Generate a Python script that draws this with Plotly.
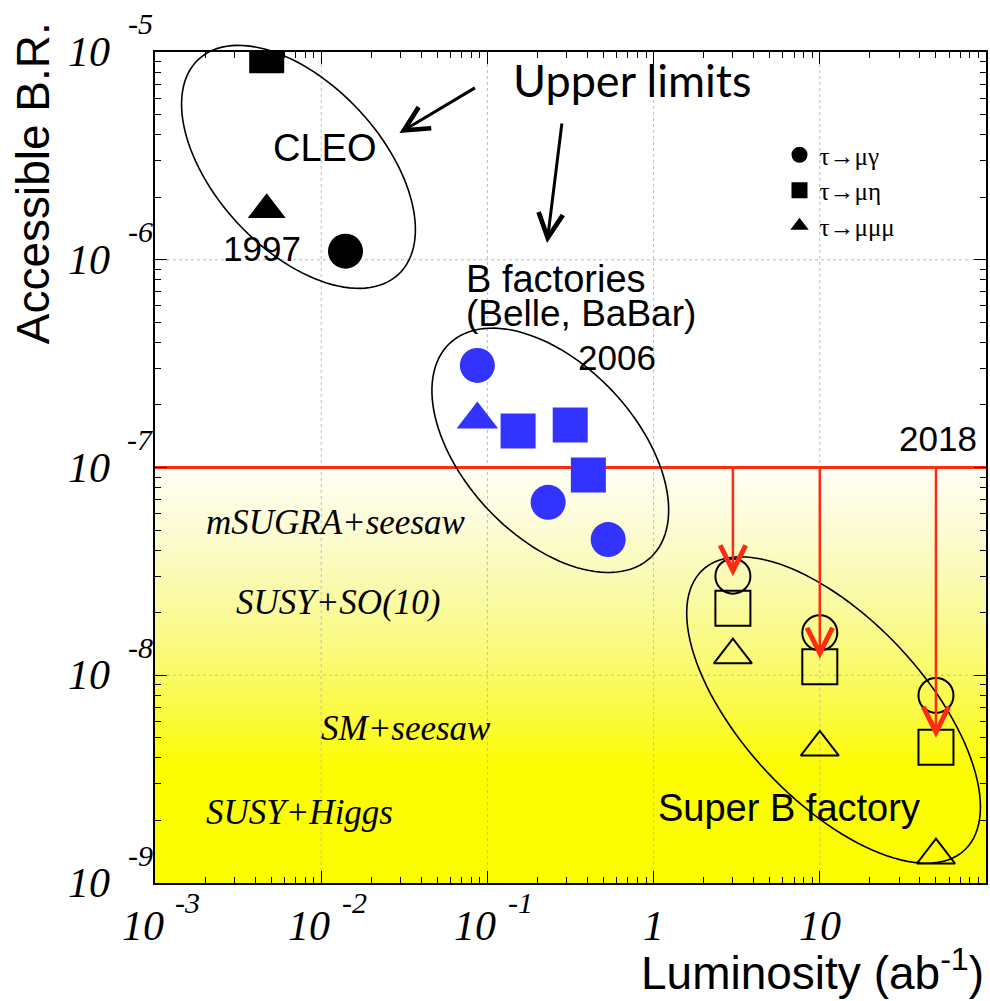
import math
import plotly.graph_objects as go

# ---- data: upper limits on LFV tau decays vs integrated luminosity (ab^-1) ----
channel_names = ["τ→μγ", "τ→μη", "τ→μμμ"]

cleo_mugamma_lumi = [0.014]
cleo_mugamma_br = [1.1e-6]
cleo_mueta_lumi = [0.0047]
cleo_mueta_br = [9.6e-6]
cleo_mumumu_lumi = [0.0047]
cleo_mumumu_br = [1.74e-6]

bfac_mugamma_lumi = [0.087, 0.232, 0.533]
bfac_mugamma_br = [3.1e-7, 6.8e-8, 4.5e-8]
bfac_mueta_lumi = [0.153, 0.315, 0.405]
bfac_mueta_br = [1.5e-7, 1.6e-7, 9.2e-8]
bfac_mumumu_lumi = [0.087]
bfac_mumumu_br = [1.7e-7]

superb_lumi = [3, 10, 50]
superb_mugamma_br = [3.0e-8, 1.6e-8, 8.0e-9]
superb_mueta_br = [2.1e-8, 1.1e-8, 4.5e-9]
superb_mumumu_br = [1.25e-8, 4.5e-9, 1.36e-9]

limit_2018 = 1e-7
arrow_tip_br = [3.0e-8, 1.2e-8, 5.0e-9]

x_tick_vals = [1e-3, 1e-2, 1e-1, 1, 10]
x_tick_base = ["10", "10", "10", "1", "10"]
x_tick_exp = ["-3", "-2", "-1", "", ""]
y_tick_vals = [1e-9, 1e-8, 1e-7, 1e-6, 1e-5]
y_tick_exp = ["-9", "-8", "-7", "-6", "-5"]

model_labels = ["mSUGRA+seesaw", "SUSY+SO(10)", "SM+seesaw", "SUSY+Higgs"]

# ---- geometry of the plotting area (figure pixels) ----
W, H = 990, 1001
PL, PR, PT, PB = 155, 988, 52, 883
XR = (-3.0, 2.0)
YR = (-9.0, -5.0)


def px_of(x):
    return PL + (math.log10(x) - XR[0]) / (XR[1] - XR[0]) * (PR - PL)


def py_of(y):
    return PB - (math.log10(y) - YR[0]) / (YR[1] - YR[0]) * (PB - PT)


def fx(px):
    return (px - PL) / (PR - PL)


def fy(py):
    return (PB - py) / (PB - PT)


def label(px, py, text, family, size, xanchor="center", **kw):
    d = dict(x=fx(px), y=fy(py), xref="paper", yref="paper", text=text,
             xanchor=xanchor, yanchor="middle", showarrow=False,
             font=dict(family=family, size=size, color="black"))
    d.update(kw)
    return d


BLUE = "#3333ff"
RED = "#ff2a12"
SANS = "Liberation Sans"
SERIF = "Liberation Serif"

fig = go.Figure()

# yellow band below the 2018 sensitivity line
fig.add_trace(go.Scatter(
    x=[10 ** XR[0], 10 ** XR[1], 10 ** XR[1], 10 ** XR[0], 10 ** XR[0]],
    y=[10 ** YR[0], 10 ** YR[0], limit_2018, limit_2018, 10 ** YR[0]],
    mode="none", fill="toself",
    fillgradient=dict(type="vertical", colorscale=[
        [0.0, "rgb(252,252,0)"], [0.28, "rgb(252,252,0)"],
        [0.40, "rgb(250,250,62)"], [0.55, "rgb(250,250,120)"],
        [0.70, "rgb(250,250,170)"], [0.85, "rgb(252,252,212)"],
        [1.0, "rgb(255,255,245)"]]),
    hoverinfo="skip", showlegend=False))

# dotted grid drawn over the band
gx, gy = [], []
for v in x_tick_vals[1:]:
    gx += [v, v, None]
    gy += [10 ** YR[0], 10 ** YR[1], None]
for v in y_tick_vals[1:-1]:
    gx += [10 ** XR[0], 10 ** XR[1], None]
    gy += [v, v, None]
fig.add_trace(go.Scatter(x=gx, y=gy, mode="lines",
                         line=dict(color="#bdbdbd", width=1, dash="dot"),
                         hoverinfo="skip", showlegend=False))

# 2018 line
fig.add_trace(go.Scatter(x=[10 ** XR[0], 10 ** XR[1]], y=[limit_2018, limit_2018],
                         mode="lines", line=dict(color=RED, width=3),
                         hoverinfo="skip", showlegend=False))

SYM = ["circle", "square", "triangle-up"]
SIZE = [35, 35, 33]

cleo = [(cleo_mugamma_lumi, cleo_mugamma_br), (cleo_mueta_lumi, cleo_mueta_br),
        (cleo_mumumu_lumi, cleo_mumumu_br)]
for i, (lx, ly) in enumerate(cleo):
    fig.add_trace(go.Scatter(x=lx, y=ly, mode="markers", name=channel_names[i],
                             marker=dict(symbol=SYM[i], size=SIZE[i], color="black",
                                         line=dict(width=0)),
                             showlegend=True))

bfac = [(bfac_mugamma_lumi, bfac_mugamma_br), (bfac_mueta_lumi, bfac_mueta_br),
        (bfac_mumumu_lumi, bfac_mumumu_br)]
for i, (lx, ly) in enumerate(bfac):
    fig.add_trace(go.Scatter(x=lx, y=ly, mode="markers",
                             marker=dict(symbol=SYM[i], size=SIZE[i] + (3 if i == 2 else 0),
                                         color=BLUE, line=dict(width=0)),
                             showlegend=False))

superb = [superb_mugamma_br, superb_mueta_br, superb_mumumu_br]
for i, ly in enumerate(superb):
    fig.add_trace(go.Scatter(x=superb_lumi, y=ly, mode="markers",
                             marker=dict(symbol=SYM[i] + "-open", size=SIZE[i],
                                         color="black", line=dict(width=2, color="black")),
                             showlegend=False))


# ellipses around each generation of experiments
def ellipse_path(cx_data, cy_data, a, b, tilt_deg, n=120):
    cx, cy = px_of(cx_data), py_of(cy_data)
    th = math.radians(tilt_deg)
    pts = []
    for k in range(n + 1):
        t = 2 * math.pi * k / n
        px = cx + a * math.cos(th) * math.cos(t) - b * math.sin(th) * math.sin(t)
        py = cy + a * math.sin(th) * math.cos(t) + b * math.cos(th) * math.sin(t)
        pts.append(f"{fx(px):.5f},{fy(py):.5f}")
    return "M" + " L".join(pts) + " Z"


for (cxd, cyd, a, b, tilt) in [(7.3e-3, 2.8e-6, 147, 83, 47),
                               (0.239, 1.21e-7, 147, 86, 46.7),
                               (12.1, 6.8e-9, 192, 91, 46.8)]:
    fig.add_shape(type="path", path=ellipse_path(cxd, cyd, a, b, tilt),
                  xref="paper", yref="paper", line=dict(color="black", width=1.6),
                  layer="above")

ann = []

# red downward arrows from the 2018 line
for L, tip in zip(superb_lumi, arrow_tip_br):
    ann.append(dict(x=math.log10(L), y=math.log10(tip), xref="x", yref="y",
                    ax=math.log10(L), ay=math.log10(limit_2018), axref="x", ayref="y",
                    text="", showarrow=True, arrowhead=5, arrowsize=2.0,
                    arrowwidth=2.5, arrowcolor=RED))

# tick labels in ROOT style: mantissa plus raised exponent
for v, base, ex in zip(x_tick_vals, x_tick_base, x_tick_exp):
    p = px_of(v)
    if ex:
        ann.append(label(p - 12, 926, f"<i>{base}</i>", SERIF, 42))
        ann.append(label(p + 33, 902, f"<i>{ex}</i>", SERIF, 30))
    else:
        ann.append(label(p, 926, f"<i>{base}</i>", SERIF, 42))

for v, ex in zip(y_tick_vals, y_tick_exp):
    p = py_of(v)
    ann.append(label(89, p, "<i>10</i>", SERIF, 42))
    ann.append(label(140, p - 28, f"<i>{ex}</i>", SERIF, 30))

# axis titles
ann.append(label(33, 183, "Accessible B.R.", SANS, 46, textangle=-90))
ann.append(label(988, 970, "Luminosity (ab<sup>-1</sup>)", SANS, 46, xanchor="right"))

# model labels
for txt, (px, py) in zip(model_labels, [(336, 522), (338, 602), (407, 728), (300, 812)]):
    ann.append(label(px, py, f"<i>{txt}</i>", SERIF, 35))

# experiment labels
for txt, px, py, size, anchor in [("CLEO", 325, 148, 38, "center"),
                                   ("1997", 262, 249, 35, "center"),
                                   ("B factories", 465, 279, 38, "left"),
                                   ("(Belle, BaBar)", 465, 313, 37, "left"),
                                   ("2006", 618, 357, 35, "center"),
                                   ("2018", 940, 439, 35, "center"),
                                   ("Super B factory", 657, 808, 38, "left")]:
    ann.append(label(px, py, txt, SANS, size, xanchor=anchor))

ann.append(label(633, 80, "Upper limits", "Lato", 45))

# black arrows from the caption
for (tx, ty, dx, dy) in [(400, 133, 77, -46), (548, 243, 15, -121)]:
    ann.append(dict(x=fx(tx), y=fy(ty), xref="paper", yref="paper", ax=dx, ay=dy,
                    text="", showarrow=True, arrowhead=5, arrowsize=1.6,
                    arrowwidth=3, arrowcolor="black"))

axis_common = dict(type="log", showgrid=False, zeroline=False, showline=True,
                   linecolor="black", linewidth=2, mirror="allticks",
                   ticks="inside", ticklen=12, tickwidth=1, tickcolor="black",
                   dtick=1, showticklabels=False,
                   minor=dict(ticks="inside", ticklen=6, tickwidth=1,
                              tickcolor="black", dtick="D1", showgrid=False))

fig.update_layout(
    width=W, height=H,
    margin=dict(l=PL, r=W - PR, t=PT, b=H - PB),
    paper_bgcolor="white", plot_bgcolor="white",
    xaxis=dict(range=list(XR), **axis_common),
    yaxis=dict(range=list(YR), **axis_common),
    annotations=ann,
    showlegend=True,
    legend=dict(x=fx(781), y=fy(132), xanchor="left", yanchor="top",
                bgcolor="rgba(0,0,0,0)", itemsizing="trace",
                font=dict(family=SERIF, size=25, color="black")),
)

fig.write_html("out.html")
